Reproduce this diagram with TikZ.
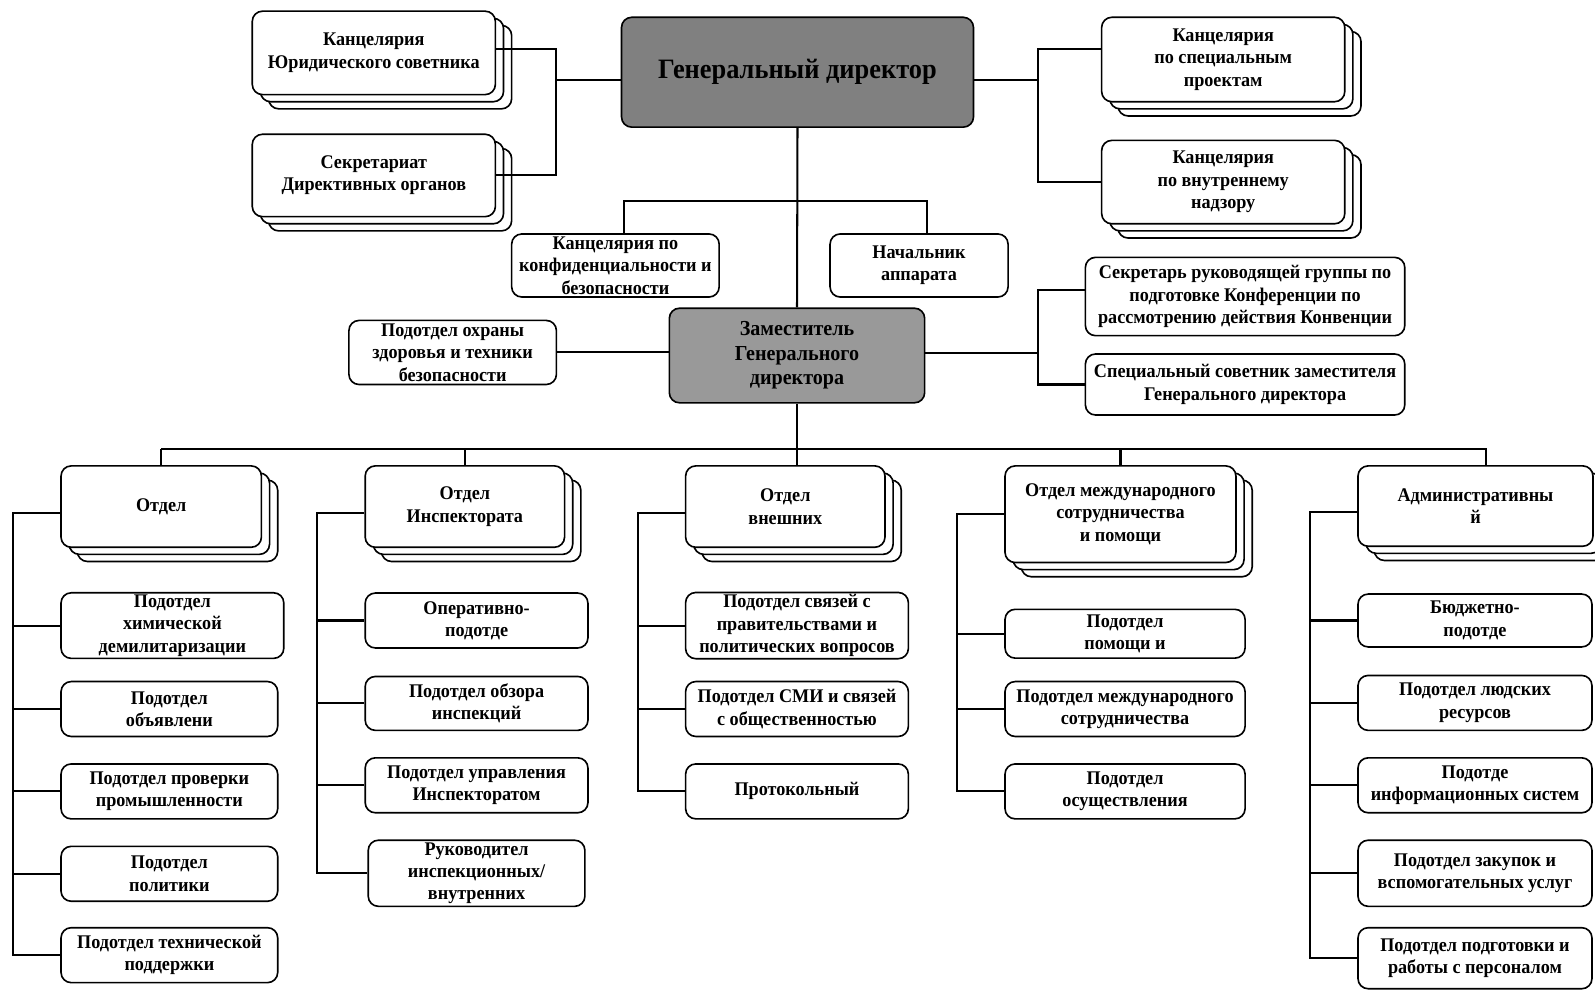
\documentclass[tikz,border=0pt]{standalone}
\usepackage{fontspec}
\setmainfont{Liberation Serif}[FakeStretch=0.94]
\usetikzlibrary{shadows}

\tikzset{
  unit/.style={draw, line width=0.8pt, rounded corners=5pt, fill=white, align=center,
    font=\fontsize{9.5}{11}\selectfont\bfseries, inner sep=1pt},
  wh/.style 2 args={minimum width=#1*0.5pt, minimum height=#2*0.5pt},
  stack/.style={copy shadow={shadow xshift=8pt, shadow yshift=-7pt},
    copy shadow={shadow xshift=4pt, shadow yshift=-3.5pt}},
  link/.style={line width=1pt},
}

\begin{document}
\begin{tikzpicture}[x=0.5pt, y=-0.5pt]
\definecolor{gdgray}{RGB}{128,128,128}
\definecolor{zamgray}{RGB}{153,153,153}
\useasboundingbox (0,0) rectangle (1568,973);

% top level
\node[unit, wh={346}{108}, fill=gdgray, font=\fontsize{13.8}{15}\selectfont\bfseries] (gd) at (784,71) {Генеральный директор};
\node[unit, stack, wh={239}{82}] (kyur) at (367.5,52) {Канцелярия\\Юридического советника};
\node[unit, stack, wh={239}{81}] (sekr) at (367.5,172.5) {Секретариат\\Директивных органов};
\node[unit, stack, wh={239}{83}] (kspec) at (1202.5,58.5) {Канцелярия\\по специальным\\проектам};
\node[unit, stack, wh={239}{82}] (knadz) at (1202.5,179) {Канцелярия\\по внутреннему\\надзору};
\node[unit, wh={204}{62}] (kkonf) at (605,261) {Канцелярия по\\конфиденциальности и\\безопасности};
\node[unit, wh={175}{62}] (nach) at (903.5,261) {Начальник\\аппарата};

% deputy
\node[unit, wh={251}{93}, fill=zamgray, font=\fontsize{10.5}{12}\selectfont\bfseries] (zam) at (783.5,349.5) {Заместитель\\Генерального\\директора};
\node[unit, wh={204}{63}] (ohr) at (445,346.5) {Подотдел охраны\\здоровья и техники\\безопасности};
\node[unit, wh={314}{77}] (sekrg) at (1224,291.5) {Секретарь руководящей группы по\\подготовке Конференции по\\рассмотрению действия Конвенции};
\node[unit, wh={314}{60}] (sovet) at (1224,378) {Специальный советник заместителя\\Генерального директора};

% departments
\node[unit, stack, wh={197}{80}] (otd1) at (158.5,498) {Отдел};
\node[unit, stack, wh={196}{80}] (otd2) at (457,498) {Отдел\\Инспектората};
\node[unit, stack, wh={196}{80}] (otd3) at (772,498) {Отдел\\внешних};
\node[unit, stack, wh={227}{95}] (otd4) at (1101.5,505.5) {Отдел международного\\сотрудничества\\и помощи};
\node[unit, stack, wh={231}{79}] (otd5) at (1450.5,497.5) {Административны\\й};

% column 1
\node[unit, wh={219}{64}] (p11) at (169.5,615) {Подотдел\\химической\\демилитаризации};
\node[unit, wh={213}{54}] (p12) at (166.5,697) {Подотдел\\объявлени};
\node[unit, wh={213}{54}] (p13) at (166.5,778) {Подотдел проверки\\промышленности};
\node[unit, wh={213}{54}] (p14) at (166.5,859) {Подотдел\\политики};
\node[unit, wh={213}{54}] (p15) at (166.5,939) {Подотдел технической\\поддержки};

% column 2
\node[unit, wh={219}{54}] (p21) at (468.5,610) {Оперативно-\\подотде};
\node[unit, wh={219}{53}] (p22) at (468.5,691.5) {Подотдел обзора\\инспекций};
\node[unit, wh={219}{54}] (p23) at (468.5,772) {Подотдел управления\\Инспекторатом};
\node[unit, wh={213}{65}] (p24) at (468.5,858.5) {Руководител\\инспекционных/\\внутренних};

% column 3
\node[unit, wh={219}{64}] (p31) at (783.5,615) {Подотдел связей с\\правительствами и\\политических вопросов};
\node[unit, wh={219}{54}] (p32) at (783.5,697) {Подотдел СМИ и связей\\с общественностью};
\node[unit, wh={219}{54}] (p33) at (783.5,778) {Протокольный};

% column 4
\node[unit, wh={236}{48}] (p41) at (1106,623) {Подотдел\\помощи и};
\node[unit, wh={236}{54}] (p42) at (1106,697) {Подотдел международного\\сотрудничества};
\node[unit, wh={236}{54}] (p43) at (1106,778) {Подотдел\\осуществления};

% column 5
\node[unit, wh={230}{52}] (p51) at (1450,610) {Бюджетно-\\подотде};
\node[unit, wh={230}{54}] (p52) at (1450,691) {Подотдел людских\\ресурсов};
\node[unit, wh={230}{54}] (p53) at (1450,772) {Подотде\\информационных систем};
\node[unit, wh={230}{65}] (p54) at (1450,858.5) {Подотдел закупок и\\вспомогательных услуг};
\node[unit, wh={230}{60}] (p55) at (1450,942) {Подотдел подготовки и\\работы с персоналом};

% links, top
\coordinate (jl) at (547,79);
\coordinate (jr) at (1020,79);
\draw[link] (gd.west |- jl) -- (jl);
\draw[link] ([yshift=2pt]kyur.east) -| (jl |- sekr.east) -- (sekr.east);
\draw[link] (gd.east |- jr) -- (jr);
\draw[link] ([yshift=5pt]kspec.west) -| (jr |- knadz.west) -- (knadz.west);
\draw[link] (gd.south) -- (zam.north);
\coordinate (mb) at (783.5,198);
\draw[link] ([xshift=4pt]kkonf.north) |- (mb) -| ([xshift=4pt]nach.north);

% links, deputy
\coordinate (jz) at (1020,347);
\draw[link] (ohr.east) -- (ohr.east -| zam.west);
\draw[link] (zam.east |- jz) -- (jz);
\draw[link] ([yshift=3pt]sekrg.west) -| (jz |- sovet.west) -- (sovet.west);

% links, departments
\coordinate (bus) at (783.5,441);
\coordinate (d5top) at ([xshift=5pt]otd5.north);
\draw[link] (zam.south) -- (otd3.north -| zam.south);
\draw[link] (bus -| otd1.north) -- (bus -| d5top) -- (d5top);
\foreach \d in {otd1,otd2,otd4}
  \draw[link] (bus -| \d.north) -- (\d.north);

% spines
\coordinate (sp1) at (13,0);
\coordinate (sp2) at (312,0);
\coordinate (sp3) at (627,0);
\coordinate (sp4) at (941,0);
\coordinate (sp5) at (1288,0);
\draw[link] ([yshift=-3pt]otd1.west) -| (sp1 |- p15.west) -- (p15.west);
\foreach \s in {p11,p12,p13,p14}
  \draw[link] (\s.west) -- (\s.west -| sp1);
\draw[link] ([yshift=-3pt]otd2.west) -| (sp2 |- p24.west) -- (p24.west);
\foreach \s in {p21,p22,p23}
  \draw[link] (\s.west) -- (\s.west -| sp2);
\draw[link] ([yshift=-3pt]otd3.west) -| (sp3 |- p33.west) -- (p33.west);
\foreach \s in {p31,p32}
  \draw[link] (\s.west) -- (\s.west -| sp3);
\draw[link] (otd4.west) -| (sp4 |- p43.west) -- (p43.west);
\foreach \s in {p41,p42}
  \draw[link] (\s.west) -- (\s.west -| sp4);
\draw[link] ([yshift=-3pt]otd5.west) -| (sp5 |- p55.west) -- (p55.west);
\foreach \s in {p51,p52,p53,p54}
  \draw[link] (\s.west) -- (\s.west -| sp5);
\end{tikzpicture}
\end{document}
